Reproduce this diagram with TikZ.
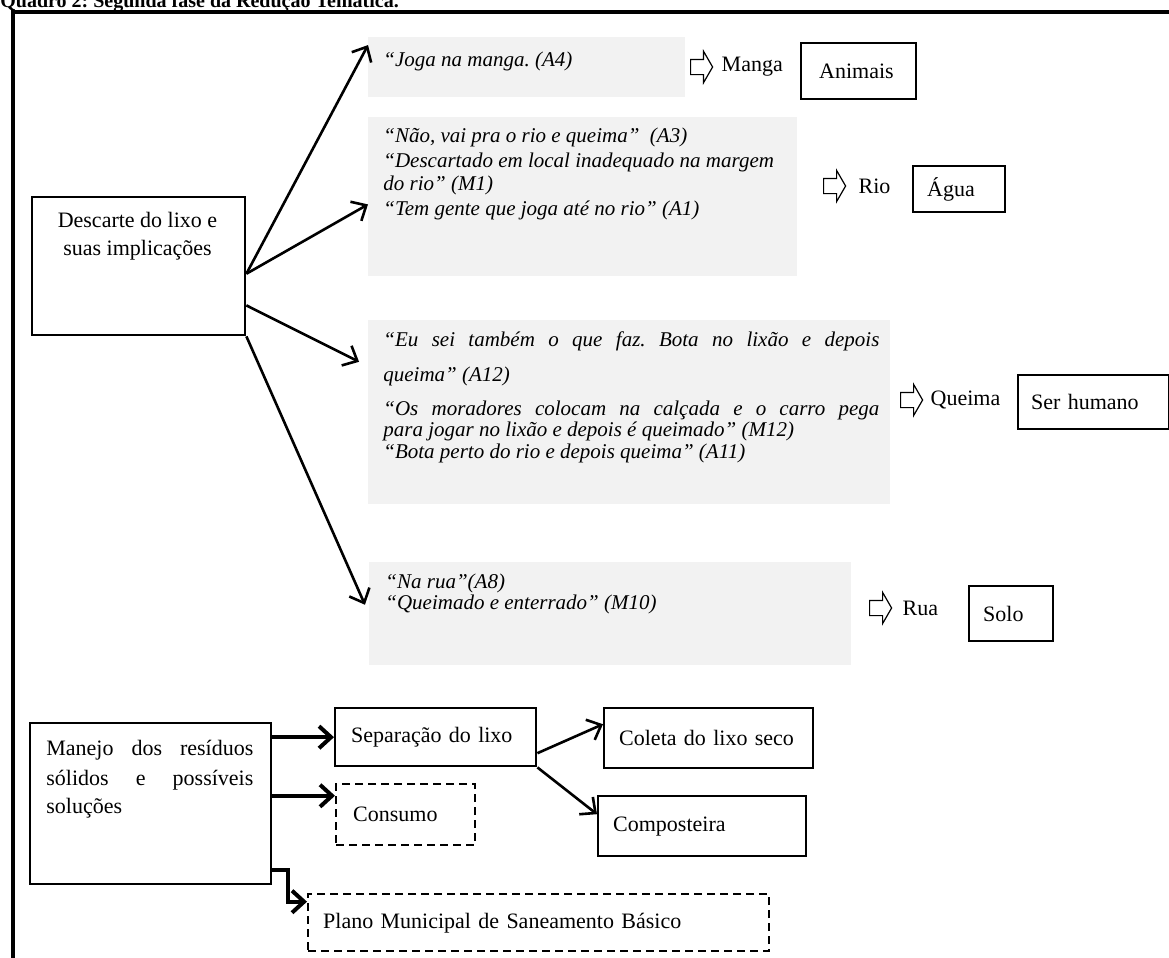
\documentclass[tikz,border=0pt]{standalone}
\usepackage{fontspec}
\setmainfont{Liberation Serif}
\usepackage{tikz}
\usetikzlibrary{positioning}
\usetikzlibrary{arrows.meta}
\usetikzlibrary{shapes.arrows}
\definecolor{cinzacitacao}{RGB}{242,242,242}
\frenchspacing

\tikzset{
  caixa/.style={draw=black, line width=1.2pt, anchor=north west, inner ysep=0pt,
    align=left, font=\fontsize{11}{13}\selectfont},
  caixatracejada/.style={caixa, dash pattern=on 4pt off 2.5pt},
  citacao/.style={fill=cinzacitacao, anchor=north west, inner sep=0pt},
  fala/.style={anchor=base west, inner sep=0pt, font=\fontsize{10.5}{12}\selectfont\itshape},
  texto/.style={inner sep=0pt, font=\fontsize{11}{13}\selectfont},
  seta/.style={line width=1.3pt, -{Straight Barb[length=6pt,width=11pt]}},
  setagrossa/.style={seta, line width=2pt},
  blocoseta/.style={single arrow, draw=black, fill=white, line width=0.6pt,
    minimum height=11pt, minimum width=15pt, single arrow head extend=4pt,
    single arrow tip angle=120, inner xsep=0pt, inner ysep=3.5pt, anchor=west}
}

\begin{document}
\begin{tikzpicture}[x=0.5pt, y=-0.5pt]
        \useasboundingbox (0,0) rectangle (1169,958);
        \clip (0,0) rectangle (1169,958);

        % moldura e titulo
        \draw[line width=2pt] (13,1000) -- (13,12) -- (1200,12);
        \node[anchor=base west, inner sep=0pt, font=\fontsize{10}{12}\selectfont\bfseries]
        (titulo) at (0,7) {Quadro 2: Segunda fase da Redução Temática.};

        % descarte do lixo
        \node[caixa, minimum width=106.5pt, minimum height=69pt] (descarte) at (31,196) {};
        \foreach \y/\linha in {227/{Descarte do lixo e}, 255/{suas implicações}}
        {
            \node[texto, anchor=base] (descarte\y) at (137.5,\y) {\linha};
        }

        \node[citacao, minimum width=158.5pt, minimum height=30pt] (citA4) at (368,37) {};
        \node[citacao, minimum width=214.5pt, minimum height=79.5pt] (citA3) at (368,117) {};
        \node[citacao, minimum width=261pt, minimum height=92pt] (citA12) at (368,320) {};
        \node[citacao, minimum width=241pt, minimum height=51.5pt] (citA8) at (369,562) {};

        \node[fala] (falaA4) at (383,67) {“Joga na manga. (A4)};
        \foreach \y/\linha in {142/{“Não, vai pra o rio e queima”\ \ (A3)},
            167/{“Descartado em local inadequado na margem},
            190/{do rio” (M1)},
            215/{“Tem gente que joga até no rio” (A1)}}
        {
            \node[fala] (falaA3\y) at (383,\y) {\linha};
        }
        \foreach \y/\linha in {346/{\makebox[248pt][s]{“Eu sei também o que faz. Bota no lixão e depois}},
            381/{queima” (A12)},
            415/{\makebox[248pt][s]{“Os moradores colocam na calçada e o carro pega}},
            436/{para jogar no lixão e depois é queimado” (M12)},
            458/{“Bota perto do rio e depois queima” (A11)}}
        {
            \node[fala] (falaA12\y) at (383,\y) {\linha};
        }
        \foreach \y/\linha in {588/{“Na rua”(A8)}, 609/{“Queimado e enterrado” (M10)}}
        {
            \node[fala] (falaA8\y) at (385,\y) {\linha};
        }

        \draw[seta] (descarte.-4) -- (citA4.172);
        \draw[seta] (descarte.-4) -- (citA3.182);
        \draw[seta, shorten >=5pt] (descarte.-20) -- (citA12.170);
        \draw[seta, shorten >=5pt] (descarte.south east) -- (citA8.west);

        % implicacoes
        \node[blocoseta] (setaManga) at (690,67) {};
        \node[texto, right=4pt of setaManga] (manga) {Manga};
        \node[caixa, inner xsep=9pt, text width=39.5pt, minimum height=28pt] (animais) at (800,42) {Animais};

        \node[blocoseta] (setaRio) at (823,186) {};
        \node[texto, right=6pt of setaRio] (rio) {Rio};
        \node[caixa, inner xsep=7pt, text width=32pt, minimum height=23pt] (agua) at (912,165) {Água};

        \node[blocoseta] (setaQueima) at (900,400) {};
        \node[texto, right=3.5pt of setaQueima] (queima) {Queima};
        \node[caixa, inner xsep=6.5pt, text width=62.5pt, minimum height=27pt] (humano) at (1017,374) {Ser humano};

        \node[blocoseta] (setaRua) at (869,608) {};
        \node[texto, right=5pt of setaRua] (rua) {Rua};
        \node[caixa, inner xsep=7pt, text width=28pt, minimum height=27.5pt] (solo) at (968,585) {Solo};

        % manejo dos residuos
        \node[caixa, minimum width=120.5pt, minimum height=80.5pt] (manejo) at (29,722) {};
        \foreach \y/\linha in {755/{\makebox[103.5pt][s]{Manejo dos resíduos}},
            785/{\makebox[103.5pt][s]{sólidos e possíveis}},
            813/{soluções}}
        {
            \node[texto, anchor=base west] (manejo\y) at (46,\y) {\linha};
        }

        \node[caixa, inner xsep=8pt, text width=84.5pt, minimum height=29pt] (separacao) at (334,707) {Separação do lixo};
        \node[caixa, inner xsep=7.5pt, text width=89.5pt, minimum height=30pt] (coleta) at (603,707) {Coleta do lixo seco};
        \node[caixatracejada, inner xsep=8.5pt, text width=52.5pt, minimum height=30.5pt] (consumo) at (335,783) {Consumo};
        \node[caixa, inner xsep=7.5pt, text width=89pt, minimum height=30pt] (composteira) at (597,795) {Composteira};
        \node[caixatracejada, inner xsep=7.5pt, text width=215.5pt, minimum height=28.5pt] (plano) at (307,893) {Plano Municipal de Saneamento Básico};

        \draw[setagrossa] (manejo.east |- separacao.west) -- (separacao.west);
        \draw[setagrossa] (manejo.east |- consumo.165) -- (consumo.165);
        \draw[setagrossa] ([yshift=7.5pt]manejo.south east) -- ++(16,0) |- ([yshift=10.5pt]plano.west);
        \draw[seta] ([yshift=-8pt]separacao.east) -- ([yshift=7pt]coleta.west);
        \draw[seta] (separacao.south east) -- ([yshift=6pt]composteira.west);
\end{tikzpicture}
\end{document}
